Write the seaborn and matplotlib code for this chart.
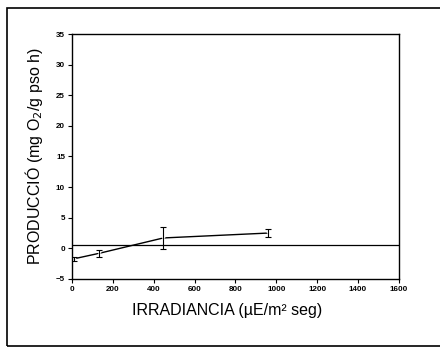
import numpy as np
import pandas as pd
import seaborn as sns
import matplotlib.pyplot as plt
from matplotlib.patches import Rectangle

irradiance = [10, 134, 447, 960]
production = [-1.7, -0.8, 1.7, 2.5]
prod_err = [0.3, 0.6, 1.8, 0.6]
ref_level = 0.5

x_ticks = [0, 200, 400, 600, 800, 1000, 1200, 1400, 1600]
y_ticks = [-5, 0, 5, 10, 15, 20, 25, 30, 35]

df = pd.DataFrame({"irr": irradiance, "prod": production, "err": prod_err})

sns.set_style("white")
plt.rcParams['font.family'] = ['Liberation Sans', 'DejaVu Sans']
plt.rcParams['text.color'] = 'black'
plt.rcParams['axes.labelcolor'] = 'black'
plt.rcParams['xtick.color'] = 'black'
plt.rcParams['ytick.color'] = 'black'

fig = plt.figure(figsize=(4.4, 3.47), dpi=100)
ax = fig.add_axes([0.1636, 0.196, 0.743, 0.706])

sns.lineplot(data=df, x="irr", y="prod", ax=ax, color="black", linewidth=1.0,
             marker="x", markersize=3, markeredgewidth=0.8)
ax.errorbar(df["irr"], df["prod"], yerr=df["err"], fmt="none", ecolor="black",
            elinewidth=0.8, capsize=2.5, capthick=0.8)
ax.axhline(ref_level, color="black", linewidth=0.9)

ax.set_xlim(0, 1600)
ax.set_ylim(-5, 35)
ax.set_xticks(x_ticks)
ax.set_yticks(y_ticks)
ax.tick_params(axis="both", direction="out", length=3, width=0.8, labelsize=5.8,
               colors="black", pad=2, left=True, bottom=True)
for lab in ax.get_xticklabels() + ax.get_yticklabels():
    lab.set_fontweight("bold")

for s in ax.spines.values():
    s.set_color("black")
    s.set_linewidth(1.0)

ax.set_xlabel("IRRADIANCIA (µE/m² seg)", fontsize=11.5)
ax.set_ylabel("PRODUCCIÓ (mg O$_2$/g pso h)", fontsize=11.5, labelpad=8)
ax.xaxis.set_label_coords(0.475, -0.1)

fig.patches.append(Rectangle((7 / 440, 1 - 346 / 347), 1.0, (346 - 8) / 347,
                             transform=fig.transFigure, fill=False,
                             edgecolor="black", linewidth=1.2))

fig.savefig("out.png", dpi=100)
